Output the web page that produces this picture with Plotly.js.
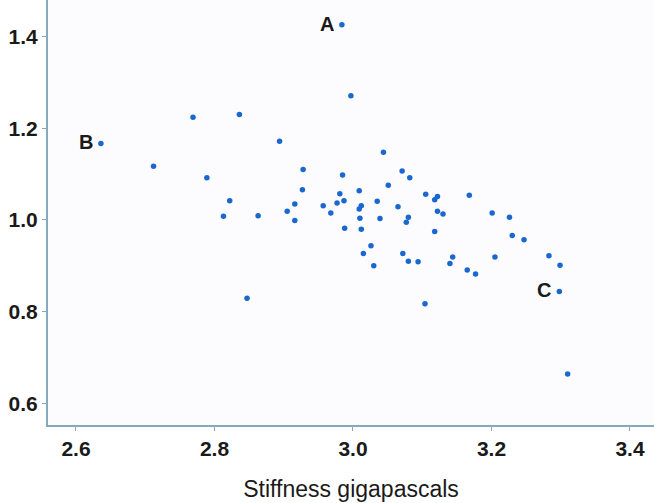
<!DOCTYPE html>
<html>
<head>
<meta charset="utf-8">
<script src="https://cdn.plot.ly/plotly-3.0.1.min.js"></script>
<style>
html, body { margin: 0; padding: 0; background: #ffffff; }
#chart { width: 654px; height: 503px; }
</style>
</head>
<body>
<div id="chart"></div>
<script>
// Stiffness (gigapascals) of each specimen
const stiffness = [
  2.636, 2.712, 2.769, 2.836, 2.789, 2.822, 2.813, 2.863, 2.894, 2.928,
  2.927, 2.916, 2.905, 2.916, 2.957, 2.968, 2.984, 2.997, 3.044, 2.985,
  3.071, 3.082, 3.051, 3.009, 2.981, 2.987, 2.977, 3.012, 3.009, 3.035,
  3.065, 3.105, 3.122, 3.118, 3.168, 3.122, 3.130, 3.010, 3.039, 3.080,
  3.077, 3.201, 3.226, 2.988, 3.012, 3.118, 3.230, 3.247, 3.026, 3.015,
  3.072, 3.144, 3.205, 3.283, 3.030, 3.080, 3.094, 3.140, 3.165, 3.177,
  3.299, 3.298, 3.104, 3.310, 2.847
];
// Vertical-axis value of each specimen
const values = [
  1.167, 1.117, 1.224, 1.230, 1.092, 1.042, 1.008, 1.009, 1.172, 1.110,
  1.066, 1.035, 1.019, 0.999, 1.031, 1.015, 1.426, 1.271, 1.148, 1.098,
  1.107, 1.092, 1.076, 1.064, 1.057, 1.042, 1.037, 1.031, 1.024, 1.041,
  1.029, 1.056, 1.051, 1.044, 1.054, 1.019, 1.013, 1.004, 1.003, 1.006,
  0.995, 1.015, 1.006, 0.982, 0.980, 0.975, 0.966, 0.957, 0.944, 0.927,
  0.927, 0.919, 0.919, 0.922, 0.900, 0.910, 0.909, 0.905, 0.891, 0.882,
  0.901, 0.844, 0.817, 0.664, 0.829
];
// Labelled specimens
const labelNames = ["A", "B", "C"];
const labelIndex = [16, 0, 61];

const xTicks = [2.6, 2.8, 3.0, 3.2, 3.4];
const xTickText = ["2.6", "2.8", "3.0", "3.2", "3.4"];
const yTicks = [0.6, 0.8, 1.0, 1.2, 1.4];
const yTickText = ["0.6", "0.8", "1.0", "1.2", "1.4"];

const axisColor = "#86aabd";
const tickFont = { family: "Liberation Sans, Arial, sans-serif", size: 21, color: "#1a1a1a", weight: "bold" };

const trace = {
  type: "scatter",
  mode: "markers",
  x: stiffness,
  y: values,
  marker: { color: "#1a68cf", size: 5.5, line: { width: 0 } },
  hoverinfo: "x+y"
};

const annotations = labelNames.map((name, k) => ({
  x: stiffness[labelIndex[k]],
  y: values[labelIndex[k]],
  xref: "x", yref: "y",
  text: name,
  showarrow: false,
  xanchor: "right",
  yanchor: "middle",
  xshift: -6,
  yshift: 1,
  font: { family: "Liberation Sans, Arial, sans-serif", size: 20, color: "#1a1a1a", weight: "bold" }
}));

const layout = {
  width: 654,
  height: 503,
  margin: { l: 48, r: 0, t: 0, b: 78, pad: 0 },
  paper_bgcolor: "#ffffff",
  plot_bgcolor: "#fcfcfe",
  showlegend: false,
  xaxis: {
    range: [2.5596, 3.4347],
    tickvals: xTicks,
    ticktext: xTickText,
    showgrid: false,
    zeroline: false,
    showline: true,
    linecolor: axisColor,
    linewidth: 2,
    ticks: "outside",
    ticklen: 4,
    tickwidth: 1,
    tickcolor: axisColor,
    tickfont: tickFont,
    title: {
      text: "Stiffness gigapascals",
      font: { family: "Liberation Sans, Arial, sans-serif", size: 23, color: "#1a1a1a" },
      standoff: 22
    }
  },
  yaxis: {
    range: [0.5527, 1.480],
    tickvals: yTicks,
    ticktext: yTickText,
    showgrid: false,
    zeroline: false,
    showline: true,
    linecolor: axisColor,
    linewidth: 2,
    ticks: "outside",
    ticklen: 4,
    tickwidth: 1,
    tickcolor: axisColor,
    tickfont: tickFont
  },
  annotations: annotations
};

Plotly.newPlot("chart", [trace], layout, { displayModeBar: false, staticPlot: true });
</script>
</body>
</html>
